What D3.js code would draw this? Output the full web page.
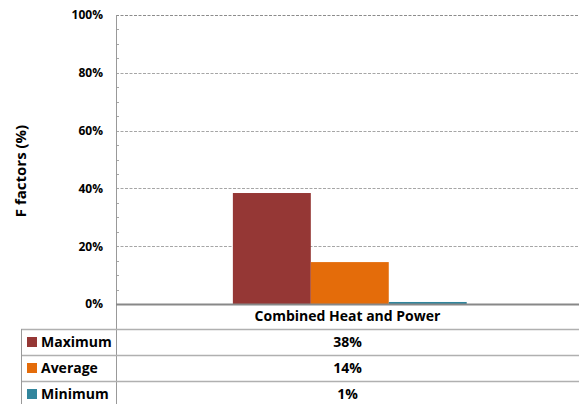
<!DOCTYPE html>
<meta charset="utf-8">
<title>F factors</title>
<style>
  body { margin: 0; background: #fff; }
  text { font-family: "Open Sans", sans-serif; font-weight: bold; fill: #000; }
</style>
<body>
<script src="https://cdn.jsdelivr.net/npm/d3@7"></script>
<script>
var category = "Combined Heat and Power";
var seriesNames = ["Maximum", "Average", "Minimum"];
var seriesValues = [38.4, 14.5, 0.7];
var tableLabels = ["38%", "14%", "1%"];
var colors = ["#953735", "#E46C0A", "#31859C"];
var yTicks = [0, 20, 40, 60, 80, 100];

var W = 579, H = 404;
var mLeft = 116, mTop = 15, mRight = 579, mBottom = 304;
var tableTop = 329, rowH = 26, tableLeft = 21;

var svg = d3.select("body").append("svg")
    .attr("width", W).attr("height", H);

var x0 = d3.scaleBand().domain([category]).range([mLeft, mRight])
    .paddingInner(0).paddingOuter(0.49).align(0.51);
var x1 = d3.scaleBand().domain(seriesNames).range([0, x0.bandwidth()]);
var y = d3.scaleLinear().domain([0, 100]).range([mBottom, mTop]);

// gridlines
svg.append("g").selectAll("line")
    .data(yTicks.filter(function(d) { return d > 0; }))
    .join("line")
    .attr("x1", mLeft).attr("x2", mRight)
    .attr("y1", function(d) { return Math.round(y(d)) + 0.5; })
    .attr("y2", function(d) { return Math.round(y(d)) + 0.5; })
    .attr("stroke", function(d) { return d === 100 ? "#8c8c8c" : "#a6a6a6"; })
    .attr("stroke-dasharray", "3,1.5");

// minor ticks
svg.append("g").selectAll("line")
    .data(d3.range(5, 100, 5).filter(function(d) { return d % 20; }))
    .join("line")
    .attr("x1", mLeft).attr("x2", mLeft + 3)
    .attr("y1", function(d) { return Math.round(y(d)) + 0.5; })
    .attr("y2", function(d) { return Math.round(y(d)) + 0.5; })
    .attr("stroke", "#a6a6a6");

// bars
svg.append("g").selectAll("rect")
    .data(seriesValues)
    .join("rect")
    .attr("x", function(d, i) { return x0(category) + x1(seriesNames[i]); })
    .attr("width", x1.bandwidth())
    .attr("y", function(d) { return y(d); })
    .attr("height", function(d) { return y(0) - y(d); })
    .attr("fill", function(d, i) { return colors[i]; });

// y axis labels
var yAxis = d3.axisLeft(y).tickValues(yTicks).tickSize(0).tickPadding(13)
    .tickFormat(function(d) { return d + "%"; });
var gy = svg.append("g").attr("transform", "translate(" + mLeft + ",0)").call(yAxis);
gy.select(".domain").remove();
gy.selectAll("text").style("font-size", "12px").style("font-family", null).attr("fill", "#000");

// axis lines
svg.append("line")
    .attr("x1", mLeft + 0.5).attr("x2", mLeft + 0.5)
    .attr("y1", mTop).attr("y2", H)
    .attr("stroke", "#999");
svg.append("line")
    .attr("x1", mLeft).attr("x2", mRight)
    .attr("y1", mBottom + 0.5).attr("y2", mBottom + 0.5)
    .attr("stroke", "#888").attr("stroke-width", 2);

// y title
svg.append("text")
    .attr("transform", "translate(26,171) rotate(-90)")
    .attr("text-anchor", "middle")
    .style("font-size", "15px")
    .text("F factors (%)");

// category label
svg.append("text")
    .attr("x", (mLeft + mRight) / 2).attr("y", 321)
    .attr("text-anchor", "middle")
    .style("font-size", "14px")
    .text(category);

// data table
var rows = svg.append("g");
seriesNames.forEach(function(name, i) {
  var yTop = tableTop + i * rowH;
  rows.append("line")
      .attr("x1", tableLeft).attr("x2", mRight)
      .attr("y1", yTop + 0.5).attr("y2", yTop + 0.5)
      .attr("stroke", "#b0b0b0").attr("stroke-width", 1.5);
  rows.append("rect")
      .attr("x", 27).attr("y", yTop + 8)
      .attr("width", 10).attr("height", 10)
      .attr("fill", colors[i]);
  rows.append("text")
      .attr("x", 41).attr("y", yTop + 18)
      .style("font-size", "14px")
      .text(name);
  rows.append("text")
      .attr("x", (mLeft + mRight) / 2).attr("y", yTop + 18)
      .attr("text-anchor", "middle")
      .style("font-size", "14px")
      .text(tableLabels[i]);
});
rows.append("line")
    .attr("x1", tableLeft + 0.5).attr("x2", tableLeft + 0.5)
    .attr("y1", tableTop).attr("y2", H)
    .attr("stroke", "#999");
</script>
</body>
